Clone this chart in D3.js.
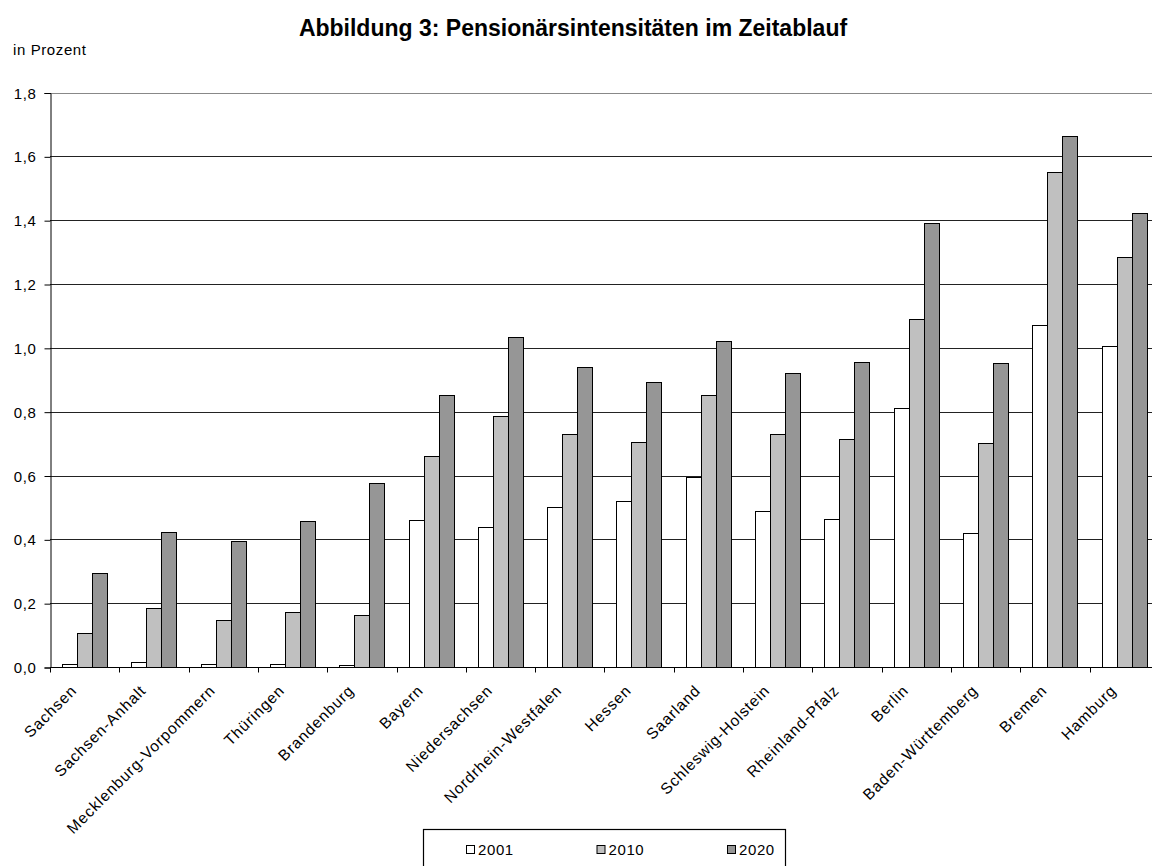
<!DOCTYPE html>
<meta charset="utf-8">
<style>
body { margin: 0; background: #fff; }
text { font-family: "Liberation Sans", Arial, sans-serif; }
.small { font-size: 15px; letter-spacing: 0.6px; fill: #000; }
.xlabel { font-size: 15.5px; letter-spacing: 0.9px; fill: #000; }
.grid line { stroke-width: 1px; shape-rendering: crispEdges; }
.bars rect { stroke: #000; stroke-width: 1px; shape-rendering: crispEdges; }
</style>
<svg width="1152" height="866"></svg>
<script src="https://d3js.org/d3.v7.min.js"></script>
<script>

// data
var laender = ["Sachsen", "Sachsen-Anhalt", "Mecklenburg-Vorpommern", "Thüringen", "Brandenburg",
  "Bayern", "Niedersachsen", "Nordrhein-Westfalen", "Hessen", "Saarland", "Schleswig-Holstein",
  "Rheinland-Pfalz", "Berlin", "Baden-Württemberg", "Bremen", "Hamburg"];
var jahre = ["2001", "2010", "2020"];
var werte2001 = [0.01, 0.015, 0.01, 0.01, 0.005, 0.46, 0.44, 0.50, 0.52, 0.595, 0.49, 0.465, 0.81, 0.42, 1.07, 1.005];
var werte2010 = [0.105, 0.185, 0.147, 0.172, 0.162, 0.66, 0.787, 0.73, 0.706, 0.853, 0.73, 0.713, 1.09, 0.703, 1.552, 1.286];
var werte2020 = [0.295, 0.423, 0.396, 0.456, 0.575, 0.853, 1.035, 0.939, 0.893, 1.02, 0.921, 0.955, 1.391, 0.954, 1.663, 1.424];
var yTicks = [0, 0.2, 0.4, 0.6, 0.8, 1.0, 1.2, 1.4, 1.6, 1.8];
var farben = ["#ffffff", "#c0c0c0", "#969696"];

var series = [werte2001, werte2010, werte2020];
var rows = laender.map(function(l, i) {
  return { land: l, werte: jahre.map(function(j, k) { return { jahr: j, v: series[k][i] }; }) };
});

var svg = d3.select("svg"),
    width = +svg.attr("width");

// note: "top" is taken by window.top, so prefixed names
var plotLeft = 50, plotTop = 92.5, plotBottom = 667, plotRight = 1159;

var x0 = d3.scaleBand().domain(laender).range([plotLeft, plotRight])
    .paddingInner(0.36).paddingOuter(0.18);
var x1 = d3.scaleBand().domain(jahre).range([0, x0.bandwidth()]);
var y = d3.scaleLinear().domain([0, 1.8]).range([plotBottom, plotTop]);
var color = d3.scaleOrdinal().domain(jahre).range(farben);

// title + unit
svg.append("text")
    .attr("x", 573).attr("y", 36)
    .attr("text-anchor", "middle")
    .style("font-size", "23px").style("font-weight", "bold")
    .text("Abbildung 3: Pensionärsintensitäten im Zeitablauf");

svg.append("text").attr("class", "small")
    .attr("x", 13).attr("y", 55)
    .text("in Prozent");

// horizontal grid lines
svg.append("g").attr("class", "grid")
  .selectAll("line")
  .data(yTicks.slice(1))
  .enter().append("line")
    .attr("x1", plotLeft).attr("x2", width)
    .attr("y1", function(d) { return Math.round(y(d)) + 0.5; })
    .attr("y2", function(d) { return Math.round(y(d)) + 0.5; })
    .style("stroke", function(d) { return d === 1.8 ? "#888" : "#222"; });

// bars
var groups = svg.append("g").attr("class", "bars")
  .selectAll("g")
  .data(rows)
  .enter().append("g")
    .attr("transform", function(d) { return "translate(" + x0(d.land) + ",0)"; });

groups.selectAll("rect")
  .data(function(d) { return d.werte; })
  .enter().append("rect")
    .attr("x", function(d) { return Math.round(x1(d.jahr)); })
    .attr("y", function(d) { return Math.round(y(d.v)); })
    .attr("width", Math.round(x1.bandwidth()))
    .attr("height", function(d) { return Math.round(y(0)) - Math.round(y(d.v)); })
    .attr("fill", function(d) { return color(d.jahr); });

// y axis
var yAxis = d3.axisLeft(y)
    .tickValues(yTicks)
    .tickSize(6)
    .tickPadding(8)
    .tickFormat(function(d) { return d3.format(".1f")(d).replace(".", ","); });

var gy = svg.append("g")
    .attr("transform", "translate(" + (plotLeft + 0.5) + ",0.5)")
    .call(yAxis);
gy.attr("font-size", null).attr("font-family", null);
gy.select(".domain").attr("stroke", "#000");
gy.selectAll("text").attr("class", "small").attr("dy", "0.34em");

// x axis line with boundary ticks
var step = x0.step();
var gx = svg.append("g").attr("transform", "translate(0," + (Math.round(plotBottom) + 0.5) + ")");
gx.append("line")
    .attr("x1", plotLeft).attr("x2", width)
    .attr("stroke", "#000");
gx.selectAll("line.tick")
  .data(laender)
  .enter().append("line")
    .attr("class", "tick")
    .attr("x1", function(d) { return Math.round(x0(d) - x0.paddingOuter() * step) + 0.5; })
    .attr("x2", function(d) { return Math.round(x0(d) - x0.paddingOuter() * step) + 0.5; })
    .attr("y1", 0).attr("y2", 5)
    .attr("stroke", "#000");

// rotated category labels
gx.selectAll("text")
  .data(laender)
  .enter().append("text")
    .attr("class", "xlabel")
    .attr("text-anchor", "end")
    .attr("transform", function(d) {
      var cx = x0(d) + x0.bandwidth() / 2;
      return "translate(" + (cx - 7) + ",24) rotate(-45)";
    })
    .text(function(d) { return d; });

// legend
var lg = svg.append("g").attr("transform", "translate(423,829)");
lg.append("rect")
    .attr("x", 0.5).attr("y", 0.5)
    .attr("width", 362).attr("height", 50)
    .attr("fill", "#fff").attr("stroke", "#000").attr("stroke-width", 1.2);

var items = lg.selectAll("g.item")
  .data(jahre)
  .enter().append("g")
    .attr("class", "item")
    .attr("transform", function(d, i) { return "translate(" + (43 + i * 130.5) + ",16)"; });

items.append("rect")
    .attr("x", 0.5).attr("y", 0.5)
    .attr("width", 8).attr("height", 8)
    .attr("fill", function(d) { return color(d); })
    .attr("stroke", "#000");

items.append("text")
    .attr("class", "small")
    .attr("x", 12).attr("y", 10)
    .text(function(d) { return d; });

</script>
